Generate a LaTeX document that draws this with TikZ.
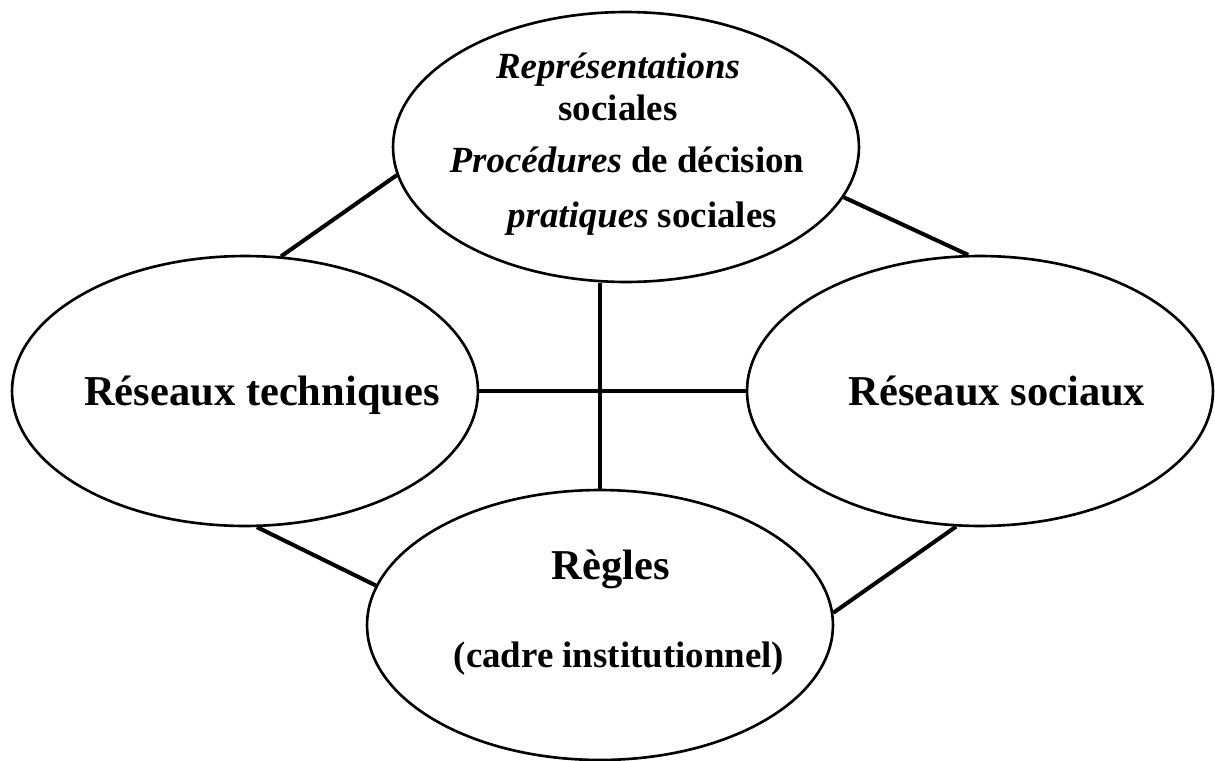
\documentclass[tikz,border=0pt]{standalone}
\usepackage{fontspec}
\setmainfont{Liberation Serif}
\usetikzlibrary{shapes}
\newcommand{\Grand}{\fontsize{24.2}{28}\selectfont\bfseries}
\newcommand{\Moyen}{\fontsize{21}{25}\selectfont\bfseries}

\begin{document}
\begin{tikzpicture}[x=0.02cm, y=-0.02cm,
    bulle/.style={draw, ellipse, line width=1.5pt, minimum width=9.32cm, minimum height=5.4cm, inner sep=0pt},
    lien/.style={line width=2.3pt}]

    \useasboundingbox (0,0) rectangle (1215,761);

    \draw(626,147) node[bulle] (haut) {};
    \draw(245,391) node[bulle] (tech) {};
    \draw(980,391) node[bulle] (soc) {};
    \draw(600,625) node[bulle] (regles) {};

    \draw(618,78) node[anchor=base] (rep) {\Moyen\itshape Représentations};
    \draw(618,120) node[anchor=base] (repsoc) {\Moyen sociales};
    \draw(627,172) node[anchor=base] (proc) {\Moyen\textit{Procédures} de décision};
    \draw(642,227) node[anchor=base] (prat) {\Moyen\textit{pratiques} sociales};
    \draw(262,405) node[anchor=base] (techtxt) {\Grand Réseaux techniques};
    \draw(997,405) node[anchor=base] (soctxt) {\Grand Réseaux sociaux};
    \draw(611,579) node[anchor=base] (regtxt) {\Grand Règles};
    \draw(619,667) node[anchor=base] (cadre) {\Moyen (cadre institutionnel)};

    \draw[lien] (haut.187) -- (tech.75);
    \draw[lien] (haut.347) -- (soc.95);
    \draw[lien] (tech.275) -- (regles.170);
    \draw[lien] (soc.260) -- (regles.3);
    \draw[lien] (tech.east) -- (soc.west);
    \draw[lien] (regles.north) -- (regles.north |- haut.south);

\end{tikzpicture}
\end{document}
